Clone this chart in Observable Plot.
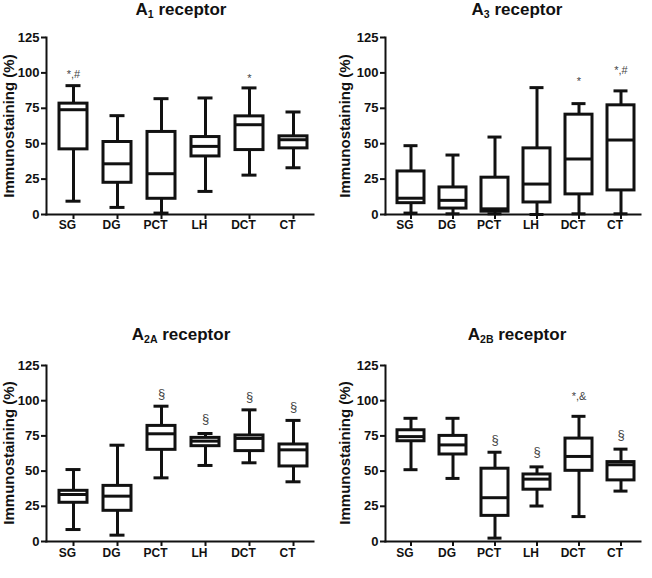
<!DOCTYPE html>
<html>
<head>
<meta charset="utf-8">
<script src="https://cdn.jsdelivr.net/npm/d3@7"></script>
<script src="https://cdn.jsdelivr.net/npm/@observablehq/plot@0.6"></script>
<style>
  body { margin: 0; background: #fff; }
  #wrap { position: relative; width: 652px; height: 578px; overflow: hidden; font-family: "Liberation Sans", Arial, sans-serif; }
  .panel { position: absolute; }
  .title { position: absolute; font-weight: bold; font-size: 17px; color: #111; text-align: center; white-space: nowrap; transform: translateX(-50%); }
  .title sub { font-size: 0.62em; vertical-align: -0.25em; }
  .ylab { position: absolute; font-weight: bold; font-size: 15px; color: #111; white-space: nowrap; transform: translate(-50%, -50%) rotate(-90deg); }
</style>
</head>
<body>
<div id="wrap"></div>
<script>
const categories = ["SG", "DG", "PCT", "LH", "DCT", "CT"];
const yTicks = [0, 25, 50, 75, 100, 125];
const yLabel = "Immunostaining (%)";

// A1 receptor
const a1Min = [9.4, 5, 1, 16.3, 27.8, 33];
const a1Q1 = [46, 22.4, 11.1, 41, 45.5, 46.7];
const a1Median = [74, 35.8, 28.8, 48.1, 63.4, 52.8];
const a1Q3 = [78.3, 51.2, 58.3, 54.7, 69.3, 55.2];
const a1Max = [91, 69.8, 81.8, 82.3, 89.4, 72.4];
const a1Notes = ["*,#", "", "", "", "*", ""];
const a1NoteY = [99, 0, 0, 0, 96, 0];

// A3 receptor
const a3Min = [1, 0.5, 0.5, 0, 0.5, 0.5];
const a3Q1 = [8, 4.2, 2, 8.5, 14.2, 17];
const a3Median = [11.5, 10, 4, 21.5, 39.2, 52.6];
const a3Q3 = [30.4, 19.1, 26, 46.7, 70.5, 77.1];
const a3Max = [48.6, 42, 54.7, 89.6, 78.3, 87.3];
const a3Notes = ["", "", "", "", "*", "*,#"];
const a3NoteY = [0, 0, 0, 0, 93.6, 102];

// A2A receptor
const a2aMin = [8.5, 4.5, 45.2, 54, 55.9, 42.4];
const a2aQ1 = [27.5, 21.8, 65.1, 67.7, 64.2, 53.3];
const a2aMedian = [33.4, 32.2, 76.5, 71.3, 73.2, 65.1];
const a2aQ3 = [36, 39.5, 82.1, 73.6, 75.3, 68.9];
const a2aMax = [51.1, 68.4, 96.1, 76.7, 93.5, 86];
const a2aNotes = ["", "", "§", "§", "§", "§"];
const a2aNoteY = [0, 0, 105, 87, 102.5, 95.5];

// A2B receptor
const a2bMin = [51, 44.8, 2.4, 25.2, 17.7, 35.8];
const a2bQ1 = [71.2, 61.8, 18.2, 36.8, 50.2, 43.4];
const a2bMedian = [74.5, 68.6, 31.1, 44.3, 60.4, 54.5];
const a2bQ3 = [79, 75, 51.7, 47.6, 73.1, 56.4];
const a2bMax = [87.5, 87.5, 63.4, 53, 88.9, 65.6];
const a2bNotes = ["", "", "§", "§", "*,&", "§"];
const a2bNoteY = [0, 0, 72.4, 63.7, 103, 75.5];

const wrap = document.getElementById("wrap");

function panel(cfg) {
  const data = categories.map((c, i) => ({
    cat: c, min: cfg.min[i], q1: cfg.q1[i], med: cfg.med[i], q3: cfg.q3[i], max: cfg.max[i],
    note: cfg.notes[i], noteY: cfg.noteY[i]
  }));
  const notes = data.filter(d => d.note);
  const chart = Plot.plot({
    width: 326,
    height: cfg.height,
    marginLeft: cfg.ml,
    marginRight: cfg.mr,
    marginTop: cfg.mt,
    marginBottom: cfg.mb,
    style: { fontFamily: "Liberation Sans, Arial, sans-serif", background: "white", color: "#111", overflow: "visible" },
    x: { type: "band", domain: categories, paddingInner: 0.368, paddingOuter: 0.2, align: 0.67 },
    y: { domain: [0, 125] },
    marks: [
      Plot.ruleX(data, { x: "cat", y1: "min", y2: "q1", stroke: "#111", strokeWidth: 3 }),
      Plot.ruleX(data, { x: "cat", y1: "q3", y2: "max", stroke: "#111", strokeWidth: 3 }),
      Plot.tickY(data, { x: "cat", y: "min", stroke: "#111", strokeWidth: 3, inset: 6.5 }),
      Plot.tickY(data, { x: "cat", y: "max", stroke: "#111", strokeWidth: 3, inset: 6.5 }),
      Plot.barY(data, { x: "cat", y1: "q1", y2: "q3", fill: "white", stroke: "#111", strokeWidth: 3 }),
      Plot.tickY(data, { x: "cat", y: "med", stroke: "#111", strokeWidth: 3 }),
      Plot.text(notes, { x: "cat", y: "noteY", text: "note", fontSize: d => d.note === "§" ? 13 : 11, fill: "#444" }),
      Plot.frame({ anchor: "left", stroke: "#111", strokeWidth: 2 }),
      Plot.frame({ anchor: "bottom", stroke: "#111", strokeWidth: 2 }),
      Plot.axisY({ ticks: yTicks, tickSize: 5, tickPadding: 2, tickFormat: d => String(d), fontSize: 13, fontWeight: "bold", strokeWidth: 2, label: null }),
      Plot.axisX({ tickSize: 5, tickFormat: () => "", strokeWidth: 2, label: null }),
      Plot.text(categories, { x: d => d, frameAnchor: "bottom", dx: -6, dy: cfg.ldy, fontSize: 12, fontWeight: "bold", fill: "#111" })
    ]
  });
  const div = document.createElement("div");
  div.className = "panel";
  div.style.left = cfg.left + "px";
  div.style.top = cfg.top + "px";
  div.appendChild(chart);
  wrap.appendChild(div);

  const t = document.createElement("div");
  t.className = "title";
  t.innerHTML = cfg.title;
  t.style.left = cfg.tx + "px";
  t.style.top = cfg.ty + "px";
  wrap.appendChild(t);
  const yl = document.createElement("div");
  yl.className = "ylab";
  yl.textContent = yLabel;
  yl.style.left = cfg.lx + "px";
  yl.style.top = cfg.ly + "px";
  wrap.appendChild(yl);
}

panel({ left: 0, top: 0, height: 270, ml: 46, mr: 13, mt: 37, mb: 56, ldy: 14, lx: 8, ly: 126, tx: 181, ty: 0,
  title: "A<sub>1</sub> receptor", min: a1Min, q1: a1Q1, med: a1Median, q3: a1Q3, max: a1Max, notes: a1Notes, noteY: a1NoteY });
panel({ left: 326, top: 0, height: 270, ml: 59, mr: 12, mt: 37, mb: 56, ldy: 14, lx: 344, ly: 126, tx: 517, ty: 0,
  title: "A<sub>3</sub> receptor", min: a3Min, q1: a3Q1, med: a3Median, q3: a3Q3, max: a3Max, notes: a3Notes, noteY: a3NoteY });
panel({ left: 0, top: 300, height: 278, ml: 46, mr: 13, mt: 65, mb: 37, ldy: 15, lx: 8, ly: 453, tx: 181, ty: 325,
  title: "A<sub>2A</sub> receptor", min: a2aMin, q1: a2aQ1, med: a2aMedian, q3: a2aQ3, max: a2aMax, notes: a2aNotes, noteY: a2aNoteY });
panel({ left: 326, top: 300, height: 278, ml: 59, mr: 12, mt: 65, mb: 37, ldy: 15, lx: 344, ly: 453, tx: 517, ty: 325,
  title: "A<sub>2B</sub> receptor", min: a2bMin, q1: a2bQ1, med: a2bMedian, q3: a2bQ3, max: a2bMax, notes: a2bNotes, noteY: a2bNoteY });
</script>
</body>
</html>
